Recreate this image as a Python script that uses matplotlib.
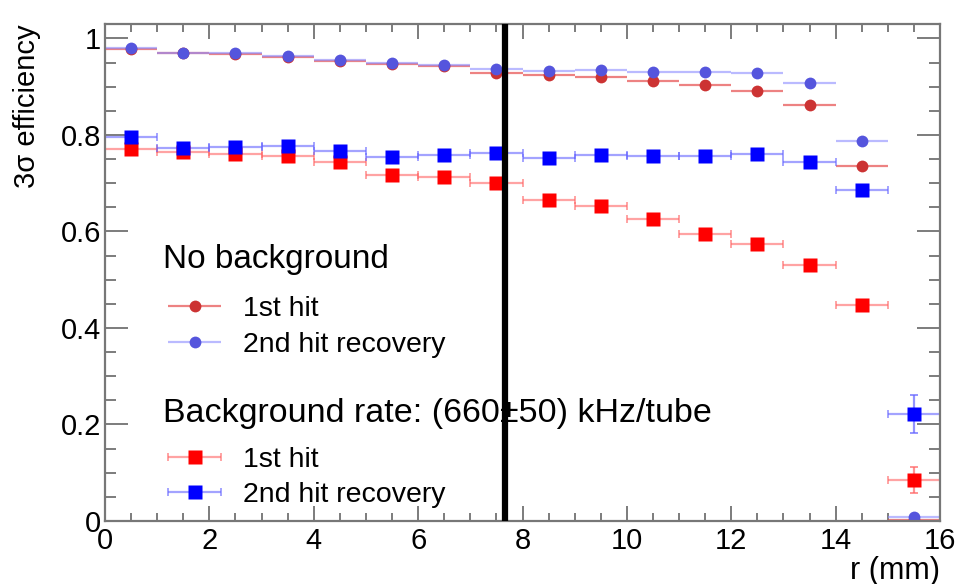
import matplotlib
matplotlib.use("Agg")
import matplotlib.pyplot as plt
from matplotlib.container import ErrorbarContainer
from matplotlib.legend_handler import HandlerErrorbar
from matplotlib.ticker import MultipleLocator

plt.rcParams['font.family'] = ['Liberation Sans', 'DejaVu Sans']

# bin centres (mm), bin half width 0.5
r = [0.5, 1.5, 2.5, 3.5, 4.5, 5.5, 6.5, 7.5, 8.5, 9.5, 10.5, 11.5, 12.5, 13.5, 14.5, 15.5]
r_err = [0.5] * 16

# no background
nobg_1st = [0.979, 0.969, 0.968, 0.961, 0.953, 0.947, 0.942, 0.929,
            0.925, 0.921, 0.911, 0.903, 0.891, 0.863, 0.736, 0.003]
nobg_2nd = [0.981, 0.970, 0.969, 0.963, 0.955, 0.949, 0.946, 0.936,
            0.932, 0.934, 0.931, 0.931, 0.928, 0.907, 0.787, 0.008]

# background rate (660+-50) kHz/tube
bg_1st = [0.770, 0.765, 0.760, 0.756, 0.744, 0.718, 0.713, 0.701,
          0.666, 0.652, 0.625, 0.594, 0.574, 0.531, 0.448, 0.085]
bg_2nd = [0.796, 0.773, 0.775, 0.777, 0.767, 0.755, 0.758, 0.763,
          0.752, 0.758, 0.756, 0.756, 0.761, 0.745, 0.686, 0.222]
# visible vertical errors on last bin only
bg_1st_yerr = [0.027]
bg_2nd_yerr = [0.040]

r_cut = 7.66

fig = plt.figure(figsize=(9.61, 5.84), dpi=100)
ax = fig.add_axes([105/961, 63/584, 835/961, 497/584])

h1 = ax.errorbar(r, nobg_1st, xerr=r_err, fmt='o', color='#cc3333', ms=8.5,
                 mec='none', ecolor=(0.9, 0.3, 0.3, 0.7), elinewidth=1.6, capsize=0)
h2 = ax.errorbar(r, nobg_2nd, xerr=r_err, fmt='o', color='#5555dd', ms=8.5,
                 mec='none', ecolor=(0.55, 0.55, 1.0, 0.6), elinewidth=1.6, capsize=0)
h3 = ax.errorbar(r, bg_1st, xerr=r_err, fmt='s', color='#ff0000', ms=10,
                 mec='none', ecolor=(1.0, 0.4, 0.4, 0.6), elinewidth=1.6,
                 capsize=3, capthick=1.4)
h4 = ax.errorbar(r, bg_2nd, xerr=r_err, fmt='s', color='#0000ff', ms=10,
                 mec='none', ecolor=(0.4, 0.4, 1.0, 0.6), elinewidth=1.6,
                 capsize=3, capthick=1.4)
ax.errorbar(r[-1:], bg_1st[-1:], yerr=bg_1st_yerr, fmt='none',
            ecolor=(1.0, 0.4, 0.4, 0.7), elinewidth=1.6, capsize=3, capthick=1.4)
ax.errorbar(r[-1:], bg_2nd[-1:], yerr=bg_2nd_yerr, fmt='none',
            ecolor=(0.4, 0.4, 1.0, 0.7), elinewidth=1.6, capsize=3, capthick=1.4)

ax.axvline(r_cut, color='black', lw=4.5, zorder=10)

ax.set_xlim(0, 16)
ax.set_ylim(0, 1.03)
ax.xaxis.set_major_locator(MultipleLocator(2))
ax.xaxis.set_minor_locator(MultipleLocator(0.5))
ax.yaxis.set_major_locator(MultipleLocator(0.2))
ax.yaxis.set_minor_locator(MultipleLocator(0.05))
ax.xaxis.set_major_formatter(lambda v, p: '%g' % v)
ax.yaxis.set_major_formatter(lambda v, p: '%g' % round(v, 2))
ax.tick_params(which='both', direction='in', top=True, right=True,
               color='#666666', labelsize=21, width=1.2)
ax.tick_params(axis='x', which='major', length=11, pad=4)
ax.tick_params(axis='x', which='minor', length=5.8)
ax.tick_params(axis='y', which='major', length=16.5, pad=3)
ax.tick_params(axis='y', which='minor', length=8)
for s in ax.spines.values():
    s.set_color('#777777')
    s.set_linewidth(1.6)

ax.set_xlabel('r (mm)', fontsize=22, loc='right', labelpad=1)
ax.set_ylabel('3σ efficiency', fontsize=21, loc='top', labelpad=14)

hmap = {ErrorbarContainer: HandlerErrorbar(xerr_size=0.93)}
leg_kw = dict(loc='upper left', frameon=False, fontsize=20.5,
              handlelength=1.9, handletextpad=0.75, labelspacing=0.33,
              borderpad=0, borderaxespad=0, handler_map=hmap)

ax.text(0.0695, 0.526, 'No background', transform=ax.transAxes,
        fontsize=24, va='center', ha='left')
leg1 = ax.legend([h1, h2], ['1st hit', '2nd hit recovery'],
                 bbox_to_anchor=(0.075, 0.452), **leg_kw)
ax.add_artist(leg1)
ax.text(0.0695, 0.217, 'Background rate: (660±50) kHz/tube', transform=ax.transAxes,
        fontsize=24.5, va='center', ha='left')
ax.legend([h3, h4], ['1st hit', '2nd hit recovery'],
          bbox_to_anchor=(0.075, 0.149), **leg_kw)

fig.savefig('out.png', dpi=100)
